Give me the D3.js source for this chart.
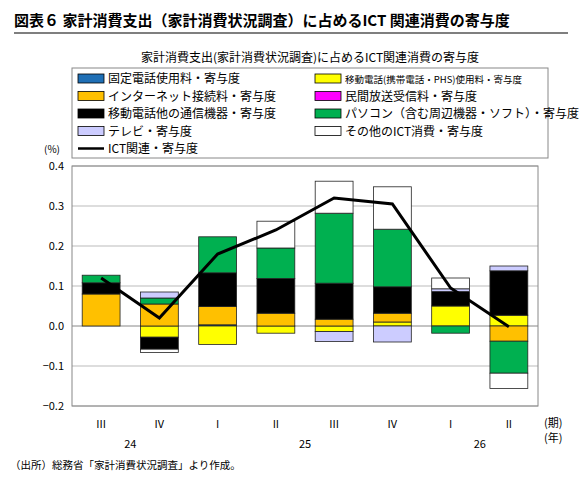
<!DOCTYPE html>
<html><head><meta charset="utf-8">
<script src="https://cdn.jsdelivr.net/npm/d3@7"></script>
<style>body{margin:0;background:#fff}text{font-family:"Noto Sans CJK JP",sans-serif}</style>
</head><body><svg id="c" width="580" height="485"></svg>
<script>
const quarters = ['III','IV','I','II','III','IV','I','II']
const years = [{label:'24', from:0, to:1}, {label:'25', from:2, to:5}, {label:'26', from:6, to:7}]
const seriesNames = ['固定電話使用料・寄与度','移動電話(携帯電話・PHS)使用料・寄与度','インターネット接続料・寄与度','民間放送受信料・寄与度',
  '移動電話他の通信機器・寄与度','パソコン（含む周辺機器・ソフト）・寄与度','テレビ・寄与度','その他のICT消費・寄与度']
const colors = ['#1f6fb5','#ffff00','#ffc000','#ff00ff','#000000','#00b050','#ccccff','#ffffff']
const fixedLine = [0,0,0.003,0,0,0,0,0]
const mobileFee = [0,-0.028,-0.046,-0.018,-0.014,0.01,0.05,0.027]
const internet = [0.08,0.055,0.046,0.032,0.017,0.022,0,-0.038]
const broadcast = [0,0,0,0,0,0,0,0]
const devices = [0.028,-0.03,0.084,0.087,0.09,0.066,0.036,0.111]
const pc = [0.019,0.015,0.09,0.076,0.175,0.144,-0.018,-0.08]
const tv = [0,0.015,0,0,-0.025,-0.04,0.007,0.012]
const other = [0,-0.008,0,0.067,0.08,0.106,0.027,-0.038]
const ictTotal = [0.12,0.02,0.18,0.24,0.32,0.305,0.095,-0.002]
const yTicks = [0.4,0.3,0.2,0.1,0,-0.1,-0.2]

const svg = d3.select('#c')
const m = {l:72, r:538, t:166, b:406}
const rows = quarters.map((q,i) => ({i, s0:fixedLine[i], s1:mobileFee[i], s2:internet[i], s3:broadcast[i],
  s4:devices[i], s5:pc[i], s6:tv[i], s7:other[i]}))
const keys = ['s0','s1','s2','s3','s4','s5','s6','s7']
const stack = d3.stack().keys(keys).offset(d3.stackOffsetDiverging)(rows)
const x = d3.scaleBand().domain(d3.range(8)).range([m.l, m.r]).paddingInner(0.35).paddingOuter(0.175)
const y = d3.scaleLinear().domain([-0.2,0.4]).range([m.b, m.t])

svg.append('text').attr('x',14).attr('y',26).attr('font-size',15).attr('font-weight','bold')
  .text('図表６ 家計消費支出（家計消費状況調査）に占めるICT 関連消費の寄与度')
svg.append('line').attr('x1',14).attr('x2',568).attr('y1',33).attr('y2',33).attr('stroke','#000').attr('stroke-width',1.2)
svg.append('text').attr('x',310).attr('y',62).attr('text-anchor','middle').attr('font-size',12)
  .text('家計消費支出(家計消費状況調査)に占めるICT関連消費の寄与度')

// legend
const lg = svg.append('g')
lg.append('rect').attr('x',72).attr('y',68).attr('width',476).attr('height',90).attr('fill','#fff').attr('stroke','#888')
const legendItems = [[0,0,0],[1,1,0],[2,0,1],[3,1,1],[4,0,2],[5,1,2],[6,0,3],[7,1,3]]
legendItems.forEach(([k,col,row]) => {
  const lx = col ? 315 : 78, ly = 72 + row*17.5
  lg.append('rect').attr('x',lx).attr('y',ly+2).attr('width',26).attr('height',9)
    .attr('fill',colors[k]).attr('stroke','#000').attr('stroke-width',0.8)
  lg.append('text').attr('x',lx+30).attr('y',ly+11).attr('font-size', k===1 ? 9.5 : 12).text(seriesNames[k])
})
lg.append('line').attr('x1',78).attr('x2',104).attr('y1',72+4*17.5+6.5).attr('y2',72+4*17.5+6.5).attr('stroke','#000').attr('stroke-width',2.5)
lg.append('text').attr('x',108).attr('y',72+4*17.5+11).attr('font-size',12).text('ICT関連・寄与度')

// grid and axes
svg.append('g').selectAll('line').data(yTicks).join('line')
  .attr('x1',m.l).attr('x2',m.r).attr('y1',d=>y(d)).attr('y2',d=>y(d))
  .attr('stroke', d => d===0 ? '#888' : '#bbb').attr('stroke-width',1)
svg.append('rect').attr('x',m.l).attr('y',m.t).attr('width',m.r-m.l).attr('height',m.b-m.t)
  .attr('fill','none').attr('stroke','#888')
svg.append('g').selectAll('text').data(yTicks).join('text')
  .attr('x',m.l-8).attr('y',d=>y(d)+4).attr('text-anchor','end').attr('font-size',11)
  .attr('font-family','DejaVu Serif').text(d3.format('.1f'))
svg.append('text').attr('x',44).attr('y',153).attr('font-size',10).text('(%)')

// bars
svg.append('g').selectAll('g').data(stack).join('g').attr('fill',(d,i)=>colors[i])
  .selectAll('rect').data(d=>d.filter(p=>p[1]!==p[0])).join('rect')
  .attr('x',d=>x(d.data.i)).attr('width',x.bandwidth())
  .attr('y',d=>y(Math.max(d[0],d[1]))).attr('height',d=>Math.abs(y(d[0])-y(d[1])))
  .attr('stroke','#222').attr('stroke-width',0.8)

svg.append('path').datum(ictTotal)
  .attr('d', d3.line().x((d,i)=>x(i)+x.bandwidth()/2).y(d=>y(d)))
  .attr('fill','none').attr('stroke','#000').attr('stroke-width',3)

// category labels
svg.append('g').selectAll('text').data(quarters).join('text')
  .attr('x',(d,i)=>x(i)+x.bandwidth()/2).attr('y',428).attr('text-anchor','middle')
  .attr('font-size',11).attr('font-family','DejaVu Serif').text(d=>d)
svg.append('g').selectAll('text').data(years).join('text')
  .attr('x',d=>(x(d.from)+x(d.to)+x.bandwidth())/2).attr('y',448).attr('text-anchor','middle')
  .attr('font-size',11).attr('font-family','DejaVu Serif').text(d=>d.label)
svg.append('text').attr('x',544).attr('y',427).attr('font-size',11).text('(期)')
svg.append('text').attr('x',544).attr('y',442).attr('font-size',11).text('(年)')
svg.append('text').attr('x',10).attr('y',469).attr('font-size',10.5).text('（出所）総務省「家計消費状況調査」より作成。')
</script></body></html>
